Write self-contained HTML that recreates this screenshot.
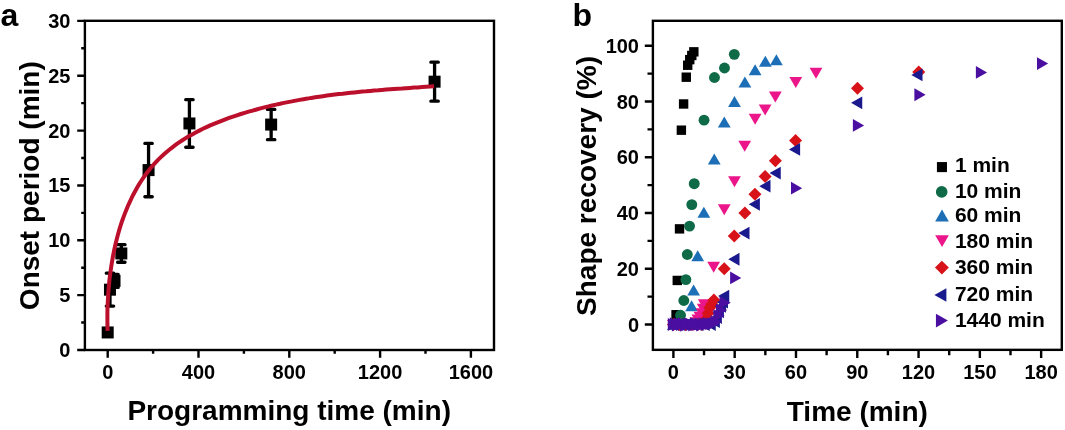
<!DOCTYPE html>
<html><head><meta charset="utf-8"><title>Shape recovery</title>
<style>html,body{margin:0;padding:0;background:#fff;width:1065px;height:430px;overflow:hidden;position:relative}</style>
</head><body>
<svg width="1065" height="430" viewBox="0 0 1065 430" style="position:absolute;left:0;top:0;will-change:transform"><rect width="1065" height="430" fill="#fff"/><path d="M77.20,350.00H84.9M77.20,295.15H84.9M77.20,240.30H84.9M77.20,185.45H84.9M77.20,130.60H84.9M77.20,75.75H84.9M77.20,20.90H84.9M81.20,322.57H84.9M81.20,267.73H84.9M81.20,212.88H84.9M81.20,158.02H84.9M81.20,103.17H84.9M81.20,48.32H84.9M107.70,350.0V357.70M198.50,350.0V357.70M289.30,350.0V357.70M380.10,350.0V357.70M470.90,350.0V357.70M153.10,350.0V353.70M243.90,350.0V353.70M334.70,350.0V353.70M425.50,350.0V353.70M644.80,324.50H652.9M644.80,268.74H652.9M644.80,212.98H652.9M644.80,157.22H652.9M644.80,101.46H652.9M644.80,45.70H652.9M647.50,296.62H652.9M647.50,240.86H652.9M647.50,185.10H652.9M647.50,129.34H652.9M647.50,73.58H652.9M673.40,349.85V357.95M734.69,349.85V357.95M795.98,349.85V357.95M857.27,349.85V357.95M918.56,349.85V357.95M979.85,349.85V357.95M1041.14,349.85V357.95M704.04,349.85V355.25M765.34,349.85V355.25M826.62,349.85V355.25M887.91,349.85V355.25M949.20,349.85V355.25M1010.50,349.85V355.25" stroke="#000" stroke-width="2.4" fill="none"/><g font-family='"Liberation Sans", sans-serif' font-weight="bold" font-size="20" fill="#000"><text transform="translate(70.40,357.00) " text-anchor="end">0</text><text transform="translate(70.40,302.15) " text-anchor="end">5</text><text transform="translate(70.40,247.30) " text-anchor="end">10</text><text transform="translate(70.40,192.45) " text-anchor="end">15</text><text transform="translate(70.40,137.60) " text-anchor="end">20</text><text transform="translate(70.40,82.75) " text-anchor="end">25</text><text transform="translate(70.40,27.90) " text-anchor="end">30</text><text transform="translate(107.70,379.20) " text-anchor="middle">0</text><text transform="translate(198.50,379.20) " text-anchor="middle">400</text><text transform="translate(289.30,379.20) " text-anchor="middle">800</text><text transform="translate(380.10,379.20) " text-anchor="middle">1200</text><text transform="translate(470.90,379.20) " text-anchor="middle">1600</text><text transform="translate(639.00,331.60) " text-anchor="end">0</text><text transform="translate(639.00,275.84) " text-anchor="end">20</text><text transform="translate(639.00,220.08) " text-anchor="end">40</text><text transform="translate(639.00,164.32) " text-anchor="end">60</text><text transform="translate(639.00,108.56) " text-anchor="end">80</text><text transform="translate(639.00,52.80) " text-anchor="end">100</text><text transform="translate(673.40,379.20) " text-anchor="middle">0</text><text transform="translate(734.69,379.20) " text-anchor="middle">30</text><text transform="translate(795.98,379.20) " text-anchor="middle">60</text><text transform="translate(857.27,379.20) " text-anchor="middle">90</text><text transform="translate(918.56,379.20) " text-anchor="middle">120</text><text transform="translate(979.85,379.20) " text-anchor="middle">150</text><text transform="translate(1041.14,379.20) " text-anchor="middle">180</text></g><g font-family='"Liberation Sans", sans-serif' font-weight="bold" font-size="28" fill="#000"><text x="289.2" y="420" text-anchor="middle">Programming time (min)</text><text x="857.3" y="421" text-anchor="middle">Time (min)</text><text transform="translate(38.9,185.7) rotate(-90)" text-anchor="middle">Onset period (min)</text><text transform="translate(596,186) rotate(-90)" text-anchor="middle">Shape recovery (%)</text></g><g font-family='"Liberation Sans", sans-serif' font-weight="bold" font-size="32" fill="#000"><text x="0.6" y="26.2">a</text><text x="572.4" y="26.2">b</text></g><path d="M107.70,329.16V335.74M104.00,329.16H111.40M104.00,335.74H111.40M109.97,273.21V306.12M106.27,273.21H113.67M106.27,306.12H113.67M114.51,274.31V287.47M110.81,274.31H118.21M110.81,287.47H118.21M121.32,244.69V262.24M117.62,244.69H125.02M117.62,262.24H125.02M148.56,143.43V196.75M144.86,143.43H152.26M144.86,196.75H152.26M189.42,99.66V147.27M185.72,99.66H193.12M185.72,147.27H193.12M271.14,109.43V139.71M267.44,109.43H274.84M267.44,139.71H274.84M434.58,62.15V101.20M430.88,62.15H438.28M430.88,101.20H438.28" stroke="#000" stroke-width="3.3" fill="none" stroke-linecap="round"/><g fill="#000"><rect x="101.70" y="326.45" width="12" height="12"/><rect x="103.97" y="283.67" width="12" height="12"/><rect x="108.51" y="274.89" width="12" height="12"/><rect x="115.32" y="247.46" width="12" height="12"/><rect x="142.56" y="164.09" width="12" height="12"/><rect x="183.42" y="117.47" width="12" height="12"/><rect x="265.14" y="118.57" width="12" height="12"/><rect x="428.58" y="75.67" width="12" height="12"/></g><path d="M107.6,330.9 L107.5,327.2 L107.4,323.4 L107.4,319.6 L107.4,315.8 L107.4,312.0 L107.5,308.1 L107.7,304.2 L107.9,300.2 L108.1,296.3 L108.3,292.3 L108.7,288.3 L109.0,284.3 L109.4,280.3 L109.9,276.2 L110.4,272.2 L111.0,268.2 L111.6,264.2 L112.3,260.1 L113.0,256.1 L113.8,252.1 L114.6,248.1 L115.5,244.1 L116.5,240.2 L117.5,236.2 L118.6,232.3 L119.7,228.4 L120.9,224.5 L122.2,220.7 L123.6,216.9 L125.0,213.1 L126.5,209.4 L128.0,205.7 L129.7,202.1 L131.4,198.5 L133.1,194.9 L135.0,191.5 L136.9,188.0 L138.9,184.6 L141.0,181.3 L143.1,178.1 L145.4,174.9 L147.7,171.8 L150.1,168.7 L152.6,165.8 L155.2,162.9 L157.8,160.1 L160.6,157.4 L163.4,154.7 L166.3,152.2 L169.3,149.7 L172.4,147.3 L175.5,144.9 L178.7,142.7 L182.0,140.5 L185.3,138.4 L188.7,136.3 L192.2,134.4 L195.7,132.4 L199.3,130.6 L202.9,128.8 L206.5,127.1 L210.2,125.4 L213.9,123.8 L217.7,122.3 L221.5,120.8 L225.3,119.3 L229.1,117.9 L233.0,116.6 L236.9,115.3 L240.8,114.0 L244.7,112.8 L248.6,111.7 L252.6,110.6 L256.5,109.5 L260.4,108.4 L264.3,107.4 L268.3,106.5 L272.2,105.5 L276.1,104.6 L280.0,103.8 L283.9,102.9 L287.9,102.1 L291.8,101.4 L295.7,100.6 L299.6,99.9 L303.5,99.2 L307.4,98.6 L311.3,97.9 L315.2,97.3 L319.1,96.7 L323.0,96.2 L327.0,95.6 L330.9,95.1 L334.8,94.6 L338.7,94.1 L342.6,93.7 L346.5,93.2 L350.5,92.8 L354.4,92.4 L358.3,92.0 L362.3,91.6 L366.2,91.3 L370.2,90.9 L374.1,90.6 L378.1,90.3 L382.0,89.9 L386.0,89.6 L390.0,89.3 L393.9,89.0 L397.9,88.7 L401.9,88.5 L405.9,88.2 L409.9,87.9 L413.9,87.6 L417.9,87.4 L422.0,87.1 L426.0,86.8 L430.1,86.5 L434.1,86.3" stroke="#bb0f2c" stroke-width="4.0" fill="none"/><g><rect x="668.70" y="319.80" width="9.4" height="9.4" fill="#000000"/><rect x="671.36" y="310.04" width="9.4" height="9.4" fill="#000000"/><rect x="672.58" y="275.75" width="9.4" height="9.4" fill="#000000"/><rect x="674.83" y="224.17" width="9.4" height="9.4" fill="#000000"/><rect x="676.67" y="125.48" width="9.4" height="9.4" fill="#000000"/><rect x="678.91" y="99.27" width="9.4" height="9.4" fill="#000000"/><rect x="681.57" y="72.50" width="9.4" height="9.4" fill="#000000"/><rect x="683.00" y="60.52" width="9.4" height="9.4" fill="#000000"/><rect x="685.04" y="54.94" width="9.4" height="9.4" fill="#000000"/><rect x="687.09" y="50.76" width="9.4" height="9.4" fill="#000000"/><rect x="689.13" y="47.13" width="9.4" height="9.4" fill="#000000"/></g><g><circle cx="673.40" cy="324.50" r="5.45" fill="#0f6a47"/><circle cx="675.44" cy="324.50" r="5.45" fill="#0f6a47"/><circle cx="677.49" cy="324.50" r="5.45" fill="#0f6a47"/><circle cx="679.53" cy="324.50" r="5.45" fill="#0f6a47"/><circle cx="680.55" cy="315.30" r="5.45" fill="#0f6a47"/><circle cx="683.82" cy="300.52" r="5.45" fill="#0f6a47"/><circle cx="685.86" cy="279.61" r="5.45" fill="#0f6a47"/><circle cx="687.29" cy="254.52" r="5.45" fill="#0f6a47"/><circle cx="689.54" cy="226.08" r="5.45" fill="#0f6a47"/><circle cx="691.79" cy="204.62" r="5.45" fill="#0f6a47"/><circle cx="694.24" cy="183.71" r="5.45" fill="#0f6a47"/><circle cx="704.04" cy="120.14" r="5.45" fill="#0f6a47"/><circle cx="714.46" cy="77.48" r="5.45" fill="#0f6a47"/><circle cx="724.48" cy="68.00" r="5.45" fill="#0f6a47"/><circle cx="734.28" cy="54.34" r="5.45" fill="#0f6a47"/></g><g><path d="M673.40,319.00L679.80,330.00L667.00,330.00Z" fill="#1c6fb6"/><path d="M677.49,319.00L683.89,330.00L671.09,330.00Z" fill="#1c6fb6"/><path d="M681.57,319.00L687.97,330.00L675.17,330.00Z" fill="#1c6fb6"/><path d="M685.66,319.00L692.06,330.00L679.26,330.00Z" fill="#1c6fb6"/><path d="M687.70,319.00L694.10,330.00L681.30,330.00Z" fill="#1c6fb6"/><path d="M691.58,300.32L697.98,311.32L685.18,311.32Z" fill="#1c6fb6"/><path d="M693.63,284.43L700.03,295.43L687.23,295.43Z" fill="#1c6fb6"/><path d="M697.71,250.14L704.11,261.14L691.31,261.14Z" fill="#1c6fb6"/><path d="M703.84,206.64L710.24,217.64L697.44,217.64Z" fill="#1c6fb6"/><path d="M714.26,153.39L720.66,164.39L707.86,164.39Z" fill="#1c6fb6"/><path d="M724.27,116.59L730.67,127.59L717.87,127.59Z" fill="#1c6fb6"/><path d="M734.49,95.96L740.89,106.96L728.09,106.96Z" fill="#1c6fb6"/><path d="M744.90,76.44L751.30,87.44L738.50,87.44Z" fill="#1c6fb6"/><path d="M755.12,64.18L761.52,75.18L748.72,75.18Z" fill="#1c6fb6"/><path d="M765.34,55.81L771.74,66.81L758.94,66.81Z" fill="#1c6fb6"/><path d="M776.37,54.14L782.77,65.14L769.97,65.14Z" fill="#1c6fb6"/></g><g><path d="M673.40,331.00L679.80,320.00L667.00,320.00Z" fill="#ec168b"/><path d="M679.53,331.00L685.93,320.00L673.13,320.00Z" fill="#ec168b"/><path d="M685.66,331.00L692.06,320.00L679.26,320.00Z" fill="#ec168b"/><path d="M689.74,331.00L696.14,320.00L683.34,320.00Z" fill="#ec168b"/><path d="M693.83,331.00L700.23,320.00L687.43,320.00Z" fill="#ec168b"/><path d="M695.87,328.21L702.27,317.21L689.47,317.21Z" fill="#ec168b"/><path d="M697.92,325.42L704.32,314.42L691.52,314.42Z" fill="#ec168b"/><path d="M699.96,322.64L706.36,311.64L693.56,311.64Z" fill="#ec168b"/><path d="M702.00,319.29L708.40,308.29L695.60,308.29Z" fill="#ec168b"/><path d="M703.23,314.83L709.63,303.83L696.83,303.83Z" fill="#ec168b"/><path d="M704.25,310.37L710.65,299.37L697.85,299.37Z" fill="#ec168b"/><path d="M713.65,272.73L720.05,261.73L707.25,261.73Z" fill="#ec168b"/><path d="M724.27,215.30L730.67,204.30L717.87,204.30Z" fill="#ec168b"/><path d="M734.49,187.14L740.89,176.14L728.09,176.14Z" fill="#ec168b"/><path d="M744.70,151.73L751.10,140.73L738.30,140.73Z" fill="#ec168b"/><path d="M755.12,124.69L761.52,113.69L748.72,113.69Z" fill="#ec168b"/><path d="M765.13,115.49L771.53,104.49L758.73,104.49Z" fill="#ec168b"/><path d="M775.35,102.38L781.75,91.38L768.95,91.38Z" fill="#ec168b"/><path d="M795.78,87.89L802.18,76.89L789.38,76.89Z" fill="#ec168b"/><path d="M816.00,78.69L822.40,67.69L809.60,67.69Z" fill="#ec168b"/></g><g><path d="M673.40,318.00L679.90,324.50L673.40,331.00L666.90,324.50Z" fill="#d81219"/><path d="M679.53,318.00L686.03,324.50L679.53,331.00L673.03,324.50Z" fill="#d81219"/><path d="M685.66,318.00L692.16,324.50L685.66,331.00L679.16,324.50Z" fill="#d81219"/><path d="M691.79,318.00L698.29,324.50L691.79,331.00L685.29,324.50Z" fill="#d81219"/><path d="M697.92,318.00L704.42,324.50L697.92,331.00L691.42,324.50Z" fill="#d81219"/><path d="M702.00,318.00L708.50,324.50L702.00,331.00L695.50,324.50Z" fill="#d81219"/><path d="M704.04,315.21L710.54,321.71L704.04,328.21L697.54,321.71Z" fill="#d81219"/><path d="M706.09,312.42L712.59,318.92L706.09,325.42L699.59,318.92Z" fill="#d81219"/><path d="M708.13,306.85L714.63,313.35L708.13,319.85L701.63,313.35Z" fill="#d81219"/><path d="M709.77,301.27L716.27,307.77L709.77,314.27L703.27,307.77Z" fill="#d81219"/><path d="M711.81,297.65L718.31,304.15L711.81,310.65L705.31,304.15Z" fill="#d81219"/><path d="M713.85,293.47L720.35,299.97L713.85,306.47L707.35,299.97Z" fill="#d81219"/><path d="M724.27,262.24L730.77,268.74L724.27,275.24L717.77,268.74Z" fill="#d81219"/><path d="M734.28,229.62L740.78,236.12L734.28,242.62L727.78,236.12Z" fill="#d81219"/><path d="M744.90,206.48L751.40,212.98L744.90,219.48L738.40,212.98Z" fill="#d81219"/><path d="M754.92,187.80L761.42,194.30L754.92,200.80L748.42,194.30Z" fill="#d81219"/><path d="M765.13,169.96L771.63,176.46L765.13,182.96L758.63,176.46Z" fill="#d81219"/><path d="M775.35,154.34L781.85,160.84L775.35,167.34L768.85,160.84Z" fill="#d81219"/><path d="M795.57,133.99L802.07,140.49L795.57,146.99L789.07,140.49Z" fill="#d81219"/><path d="M857.47,81.86L863.97,88.36L857.47,94.86L850.97,88.36Z" fill="#d81219"/><path d="M918.76,65.41L925.26,71.91L918.76,78.41L912.26,71.91Z" fill="#d81219"/></g><g><path d="M667.80,324.50L679.00,318.10L679.00,330.90Z" fill="#1a1a8e"/><path d="M673.93,324.50L685.13,318.10L685.13,330.90Z" fill="#1a1a8e"/><path d="M680.06,324.50L691.26,318.10L691.26,330.90Z" fill="#1a1a8e"/><path d="M686.19,324.50L697.39,318.10L697.39,330.90Z" fill="#1a1a8e"/><path d="M692.32,324.50L703.52,318.10L703.52,330.90Z" fill="#1a1a8e"/><path d="M698.44,324.50L709.64,318.10L709.64,330.90Z" fill="#1a1a8e"/><path d="M704.57,324.50L715.77,318.10L715.77,330.90Z" fill="#1a1a8e"/><path d="M708.66,321.71L719.86,315.31L719.86,328.11Z" fill="#1a1a8e"/><path d="M710.70,317.53L721.90,311.13L721.90,323.93Z" fill="#1a1a8e"/><path d="M712.75,311.95L723.95,305.55L723.95,318.35Z" fill="#1a1a8e"/><path d="M714.79,306.38L725.99,299.98L725.99,312.78Z" fill="#1a1a8e"/><path d="M716.83,302.20L728.03,295.80L728.03,308.60Z" fill="#1a1a8e"/><path d="M718.06,296.06L729.26,289.66L729.26,302.46Z" fill="#1a1a8e"/><path d="M728.27,259.26L739.47,252.86L739.47,265.66Z" fill="#1a1a8e"/><path d="M738.28,233.05L749.48,226.65L749.48,239.45Z" fill="#1a1a8e"/><path d="M748.70,204.34L759.90,197.94L759.90,210.74Z" fill="#1a1a8e"/><path d="M759.33,186.22L770.53,179.82L770.53,192.62Z" fill="#1a1a8e"/><path d="M769.54,173.11L780.74,166.71L780.74,179.51Z" fill="#1a1a8e"/><path d="M788.95,149.41L800.15,143.01L800.15,155.81Z" fill="#1a1a8e"/><path d="M851.06,102.85L862.26,96.45L862.26,109.25Z" fill="#1a1a8e"/><path d="M911.33,74.97L922.53,68.57L922.53,81.37Z" fill="#1a1a8e"/></g><g><path d="M679.00,324.50L667.80,318.10L667.80,330.90Z" fill="#4a0fa0"/><path d="M681.04,323.66L669.84,317.26L669.84,330.06Z" fill="#4a0fa0"/><path d="M683.09,325.06L671.89,318.66L671.89,331.46Z" fill="#4a0fa0"/><path d="M685.13,323.94L673.93,317.54L673.93,330.34Z" fill="#4a0fa0"/><path d="M687.17,324.50L675.97,318.10L675.97,330.90Z" fill="#4a0fa0"/><path d="M689.22,323.66L678.01,317.26L678.01,330.06Z" fill="#4a0fa0"/><path d="M691.26,325.34L680.06,318.94L680.06,331.74Z" fill="#4a0fa0"/><path d="M693.30,324.50L682.10,318.10L682.10,330.90Z" fill="#4a0fa0"/><path d="M695.34,323.66L684.14,317.26L684.14,330.06Z" fill="#4a0fa0"/><path d="M697.39,324.50L686.19,318.10L686.19,330.90Z" fill="#4a0fa0"/><path d="M699.43,325.06L688.23,318.66L688.23,331.46Z" fill="#4a0fa0"/><path d="M701.47,323.66L690.27,317.26L690.27,330.06Z" fill="#4a0fa0"/><path d="M703.52,324.50L692.32,318.10L692.32,330.90Z" fill="#4a0fa0"/><path d="M705.56,323.94L694.36,317.54L694.36,330.34Z" fill="#4a0fa0"/><path d="M707.60,325.06L696.40,318.66L696.40,331.46Z" fill="#4a0fa0"/><path d="M709.64,323.66L698.44,317.26L698.44,330.06Z" fill="#4a0fa0"/><path d="M711.69,324.50L700.49,318.10L700.49,330.90Z" fill="#4a0fa0"/><path d="M713.73,323.38L702.53,316.98L702.53,329.78Z" fill="#4a0fa0"/><path d="M715.77,323.94L704.57,317.54L704.57,330.34Z" fill="#4a0fa0"/><path d="M717.82,323.66L706.62,317.26L706.62,330.06Z" fill="#4a0fa0"/><path d="M719.86,323.38L708.66,316.98L708.66,329.78Z" fill="#4a0fa0"/><path d="M721.90,321.71L710.70,315.31L710.70,328.11Z" fill="#4a0fa0"/><path d="M724.56,315.58L713.36,309.18L713.36,321.98Z" fill="#4a0fa0"/><path d="M727.21,310.00L716.01,303.60L716.01,316.40Z" fill="#4a0fa0"/><path d="M730.69,302.75L719.49,296.35L719.49,309.15Z" fill="#4a0fa0"/><path d="M741.31,277.94L730.11,271.54L730.11,284.34Z" fill="#4a0fa0"/><path d="M802.19,188.17L790.99,181.77L790.99,194.57Z" fill="#4a0fa0"/><path d="M864.10,125.44L852.90,119.04L852.90,131.84Z" fill="#4a0fa0"/><path d="M925.59,94.77L914.39,88.37L914.39,101.17Z" fill="#4a0fa0"/><path d="M987.08,72.46L975.88,66.06L975.88,78.86Z" fill="#4a0fa0"/><path d="M1048.17,63.54L1036.97,57.14L1036.97,69.94Z" fill="#4a0fa0"/></g><g font-family='"Liberation Sans", sans-serif' font-weight="bold" font-size="21" fill="#000"><rect x="936.92" y="162.07" width="10.06" height="10.06" fill="#000000"/><text x="954.9" y="171.80">1 min</text><circle cx="941.70" cy="191.90" r="5.83" fill="#0f6a47"/><text x="954.9" y="197.90">10 min</text><path d="M942.00,209.62L948.85,221.38L935.15,221.38Z" fill="#1c6fb6"/><text x="954.9" y="222.10">60 min</text><path d="M942.05,246.94L948.90,235.17L935.20,235.17Z" fill="#ec168b"/><text x="954.9" y="247.90">180 min</text><path d="M941.90,260.65L948.86,267.60L941.90,274.56L934.94,267.60Z" fill="#d81219"/><text x="954.9" y="274.30">360 min</text><path d="M934.41,295.00L946.39,288.15L946.39,301.85Z" fill="#1a1a8e"/><text x="954.9" y="300.80">720 min</text><path d="M947.89,320.60L935.91,313.75L935.91,327.45Z" fill="#4a0fa0"/><text x="954.9" y="326.80">1440 min</text></g><rect x="84.9" y="20.8" width="409.1" height="329.2" fill="none" stroke="#000" stroke-width="2.4"/><rect x="652.9" y="20.8" width="408.9" height="329.05" fill="none" stroke="#000" stroke-width="2.4"/></svg>
</body></html>
